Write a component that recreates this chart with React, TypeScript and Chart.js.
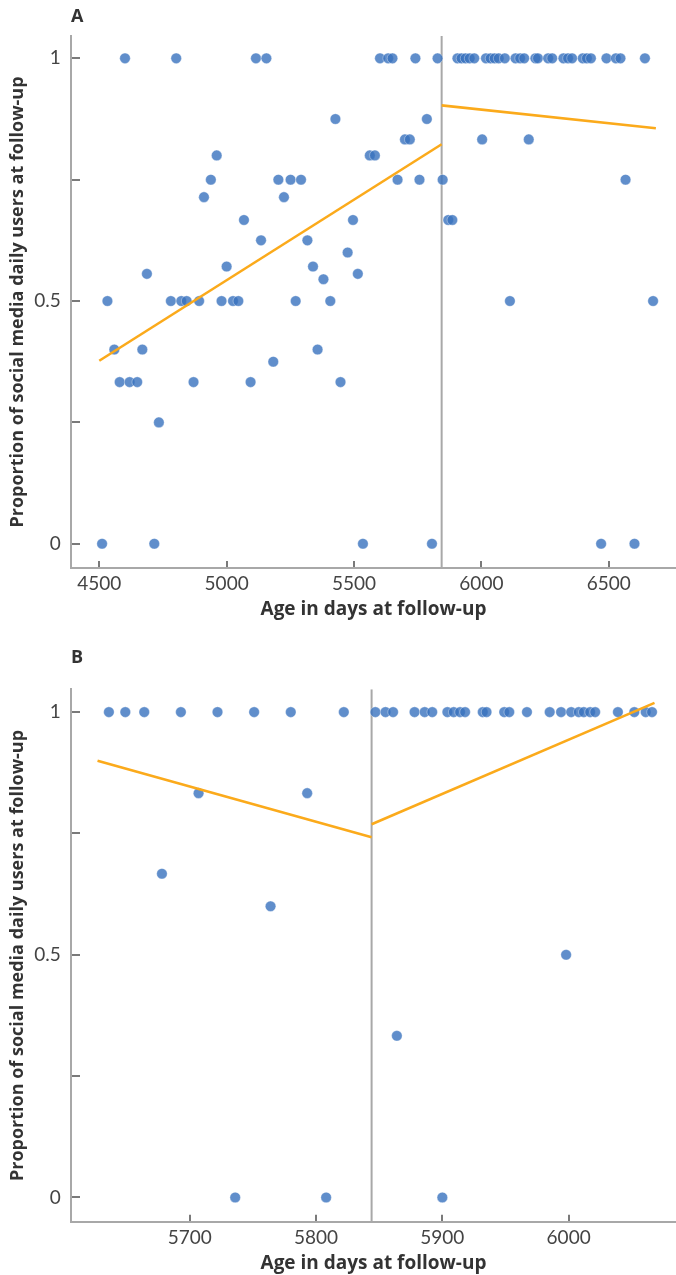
import React, { useEffect, useRef } from 'react';
import { Chart, registerables } from 'chart.js';

Chart.register(...registerables);

// ---------- shared ----------
const CUTOFF_DAY = 5844;
const Y_TICKS = [0, 0.25, 0.5, 0.75, 1];
const Y_LABELLED = [0, 0.5, 1];
const Y_TITLE = 'Proportion of social media daily users at follow-up';
const X_TITLE = 'Age in days at follow-up';

// ---------- panel A ----------
const A_AGES = [
  // proportion 1
  4601, 4802, 5115, 5156, 5602, 5634, 5651, 5741, 5828,
  5906, 5922, 5938, 5954, 5972, 6018, 6036, 6052, 6068, 6092, 6134, 6152, 6168,
  6212, 6222, 6262, 6278, 6322, 6340, 6356, 6398, 6414, 6430, 6491, 6528, 6546, 6642,
  // 0.875
  5427, 5786,
  // 0.833
  5700, 5719, 6003, 6186,
  // 0.8
  4961, 5562, 5582,
  // 0.75
  4938, 5203, 5251, 5292, 5671, 5757, 5848, 6566,
  // 0.714
  4911, 5225,
  // 0.667
  5068, 5496, 5870, 5886,
  // 0.625
  5135, 5317,
  // 0.6
  5475,
  // 0.571
  5000, 5339,
  // 0.556
  4687, 5515,
  // 0.545
  5380,
  // 0.5
  4532, 4781, 4822, 4843, 4892, 4980, 5025, 5046, 5271, 5407, 6112, 6674,
  // 0.4
  4559, 4669, 5357,
  // 0.375
  5183,
  // 0.333
  4580, 4619, 4649, 4870, 5094, 5447,
  // 0.25
  4734,
  // 0
  4511, 4716, 5535, 5806, 6470, 6601,
];
const A_PROPS = [
  1, 1, 1, 1, 1, 1, 1, 1, 1,
  1, 1, 1, 1, 1, 1, 1, 1, 1, 1, 1, 1, 1,
  1, 1, 1, 1, 1, 1, 1, 1, 1, 1, 1, 1, 1, 1,
  0.875, 0.875,
  0.833, 0.833, 0.833, 0.833,
  0.8, 0.8, 0.8,
  0.75, 0.75, 0.75, 0.75, 0.75, 0.75, 0.75, 0.75,
  0.714, 0.714,
  0.667, 0.667, 0.667, 0.667,
  0.625, 0.625,
  0.6,
  0.571, 0.571,
  0.556, 0.556,
  0.545,
  0.5, 0.5, 0.5, 0.5, 0.5, 0.5, 0.5, 0.5, 0.5, 0.5, 0.5, 0.5,
  0.4, 0.4, 0.4,
  0.375,
  0.333, 0.333, 0.333, 0.333, 0.333, 0.333,
  0.25,
  0, 0, 0, 0, 0, 0,
];
const A_TREND_BEFORE_X = [4500, 5844];
const A_TREND_BEFORE_Y = [0.377, 0.823];
const A_TREND_AFTER_X = [5844, 6685];
const A_TREND_AFTER_Y = [0.903, 0.856];
const A_X_TICKS = [4500, 5000, 5500, 6000, 6500];

// ---------- panel B ----------
const B_AGES = [
  // proportion 1
  5636, 5649, 5664, 5693, 5722, 5751, 5780, 5822,
  5847, 5855, 5861, 5878, 5886, 5892, 5904, 5909, 5914, 5918, 5932, 5935, 5949, 5953,
  5967, 5985, 5994, 6002, 6008, 6012, 6017, 6021, 6039, 6052, 6061, 6066,
  // 0.833
  5707, 5793,
  // 0.667
  5678,
  // 0.6
  5764,
  // 0.5
  5998,
  // 0.333
  5864,
  // 0
  5736, 5808, 5900,
];
const B_PROPS = [
  1, 1, 1, 1, 1, 1, 1, 1,
  1, 1, 1, 1, 1, 1, 1, 1, 1, 1, 1, 1, 1, 1,
  1, 1, 1, 1, 1, 1, 1, 1, 1, 1, 1, 1,
  0.833, 0.833,
  0.667,
  0.6,
  0.5,
  0.333,
  0, 0, 0,
];
const B_TREND_BEFORE_X = [5627, 5844];
const B_TREND_BEFORE_Y = [0.9, 0.742];
const B_TREND_AFTER_X = [5844, 6068];
const B_TREND_AFTER_Y = [0.769, 1.019];
const B_X_TICKS = [5700, 5800, 5900, 6000];

const FONT = 'Lato, "Open Sans", "DejaVu Sans", sans-serif';
const TITLE_FONT = '"Open Sans", Lato, "DejaVu Sans", sans-serif';
const POINT_FILL = 'rgba(56,114,190,0.8)';
const POINT_EDGE = 'rgba(255,255,255,0.35)';
const TREND_COLOR = '#FBAA1B';
const AXIS_COLOR = '#a8a8a8';
const TICK_COLOR = '#7a7a7a';

type PanelSpec = {
  label: string;
  ages: number[];
  props: number[];
  beforeX: number[];
  beforeY: number[];
  afterX: number[];
  afterY: number[];
  xTicks: number[];
  xMin: number;
  xMax: number;
  yMin: number;
  yMax: number;
  titleTop: number;
  titleBottom: number;
  xAxisHeight: number;
  xTitleBottom: number;
};

const zip = (xs: number[], ys: number[]) => xs.map((x, i) => ({ x, y: ys[i] }));

function makeConfig(p: PanelSpec): any {
  return {
    type: 'scatter',
    data: {
      datasets: [
        {
          type: 'line',
          data: [
            { x: CUTOFF_DAY, y: p.yMin },
            { x: CUTOFF_DAY, y: p.yMax },
          ],
          borderColor: AXIS_COLOR,
          borderWidth: 2,
          pointRadius: 0,
          order: 3,
        },
        {
          type: 'scatter',
          data: zip(p.ages, p.props),
          backgroundColor: POINT_FILL,
          borderColor: POINT_EDGE,
          borderWidth: 1,
          pointRadius: 5.3,
          order: 2,
        },
        {
          type: 'line',
          data: zip(p.beforeX, p.beforeY),
          borderColor: TREND_COLOR,
          borderWidth: 2.6,
          pointRadius: 0,
          order: 1,
        },
        {
          type: 'line',
          data: zip(p.afterX, p.afterY),
          borderColor: TREND_COLOR,
          borderWidth: 2.6,
          pointRadius: 0,
          order: 1,
        },
      ],
    },
    options: {
      animation: false,
      responsive: false,
      devicePixelRatio: 1,
      layout: { padding: 0, autoPadding: false },
      plugins: {
        legend: { display: false },
        tooltip: { enabled: false },
        title: {
          display: true,
          text: p.label,
          align: 'start',
          fullSize: false,
          color: '#333',
          font: { family: TITLE_FONT, size: 18, weight: 'bold' },
          padding: { top: p.titleTop, bottom: p.titleBottom },
        },
      },
      scales: {
        x: {
          type: 'linear',
          position: 'bottom',
          min: p.xMin,
          max: p.xMax,
          afterBuildTicks: (scale: any) => {
            scale.ticks = p.xTicks.map((v) => ({ value: v }));
          },
          afterFit: (scale: any) => {
            scale.height = p.xAxisHeight;
          },
          grid: {
            drawOnChartArea: false,
            drawTicks: true,
            tickLength: -7,
            color: TICK_COLOR,
            lineWidth: 2,
          },
          border: { display: true, color: AXIS_COLOR, width: 2 },
          ticks: {
            padding: 11.6,
            color: '#444',
            font: { family: FONT, size: 19 },
            maxRotation: 0,
            autoSkip: false,
            callback: (v: any) => String(v),
          },
          title: {
            display: true,
            text: X_TITLE,
            color: '#333',
            font: { family: TITLE_FONT, size: 19, weight: 'bold' },
            padding: { top: 0, bottom: p.xTitleBottom },
          },
        },
        y: {
          type: 'linear',
          position: 'left',
          min: p.yMin,
          max: p.yMax,
          afterBuildTicks: (scale: any) => {
            scale.ticks = Y_TICKS.map((v) => ({ value: v }));
          },
          afterFit: (scale: any) => {
            scale.width = 71;
          },
          grid: {
            drawOnChartArea: false,
            drawTicks: true,
            tickLength: -9,
            color: TICK_COLOR,
            lineWidth: 2,
          },
          border: { display: true, color: AXIS_COLOR, width: 2 },
          ticks: {
            padding: 19.3,
            color: '#444',
            font: { family: FONT, size: 19 },
            autoSkip: false,
            callback: (v: any) => (Y_LABELLED.includes(v) ? String(v) : ''),
          },
          title: {
            display: true,
            text: Y_TITLE,
            color: '#333',
            font: { family: TITLE_FONT, size: 18, weight: 'bold' },
            padding: { top: 7.2, bottom: 0 },
          },
        },
      },
    },
  };
}

const PANEL_A: PanelSpec = {
  label: 'A',
  ages: A_AGES,
  props: A_PROPS,
  beforeX: A_TREND_BEFORE_X,
  beforeY: A_TREND_BEFORE_Y,
  afterX: A_TREND_AFTER_X,
  afterY: A_TREND_AFTER_Y,
  xTicks: A_X_TICKS,
  xMin: 4389,
  xMax: 6764,
  yMin: -0.05,
  yMax: 1.046,
  titleTop: 5.7,
  titleBottom: 8.7,
  xAxisHeight: 57,
  xTitleBottom: 4.2,
};

const PANEL_B: PanelSpec = {
  label: 'B',
  ages: B_AGES,
  props: B_PROPS,
  beforeX: B_TREND_BEFORE_X,
  beforeY: B_TREND_BEFORE_Y,
  afterX: B_TREND_AFTER_X,
  afterY: B_TREND_AFTER_Y,
  xTicks: B_X_TICKS,
  xMin: 5606,
  xMax: 6085,
  yMin: -0.05,
  yMax: 1.047,
  titleTop: 21.7,
  titleBottom: 21,
  xAxisHeight: 53.3,
  xTitleBottom: 0,
};

function Panel({ spec, top, height }: { spec: PanelSpec; top: number; height: number }) {
  const ref = useRef<HTMLCanvasElement | null>(null);
  useEffect(() => {
    if (!ref.current) return;
    const chart = new Chart(ref.current, makeConfig(spec));
    return () => chart.destroy();
  }, [spec]);
  return (
    <canvas
      ref={ref}
      width={676}
      height={height}
      style={{ position: 'absolute', left: 0, top, width: 676, height }}
    />
  );
}

export default function App() {
  return (
    <div
      style={{
        position: 'absolute',
        left: 0,
        top: 0,
        width: 676,
        height: 1275,
        background: '#fff',
        overflow: 'hidden',
      }}
    >
      <Panel spec={PANEL_A} top={0} height={625} />
      <Panel spec={PANEL_B} top={625} height={650} />
    </div>
  );
}
